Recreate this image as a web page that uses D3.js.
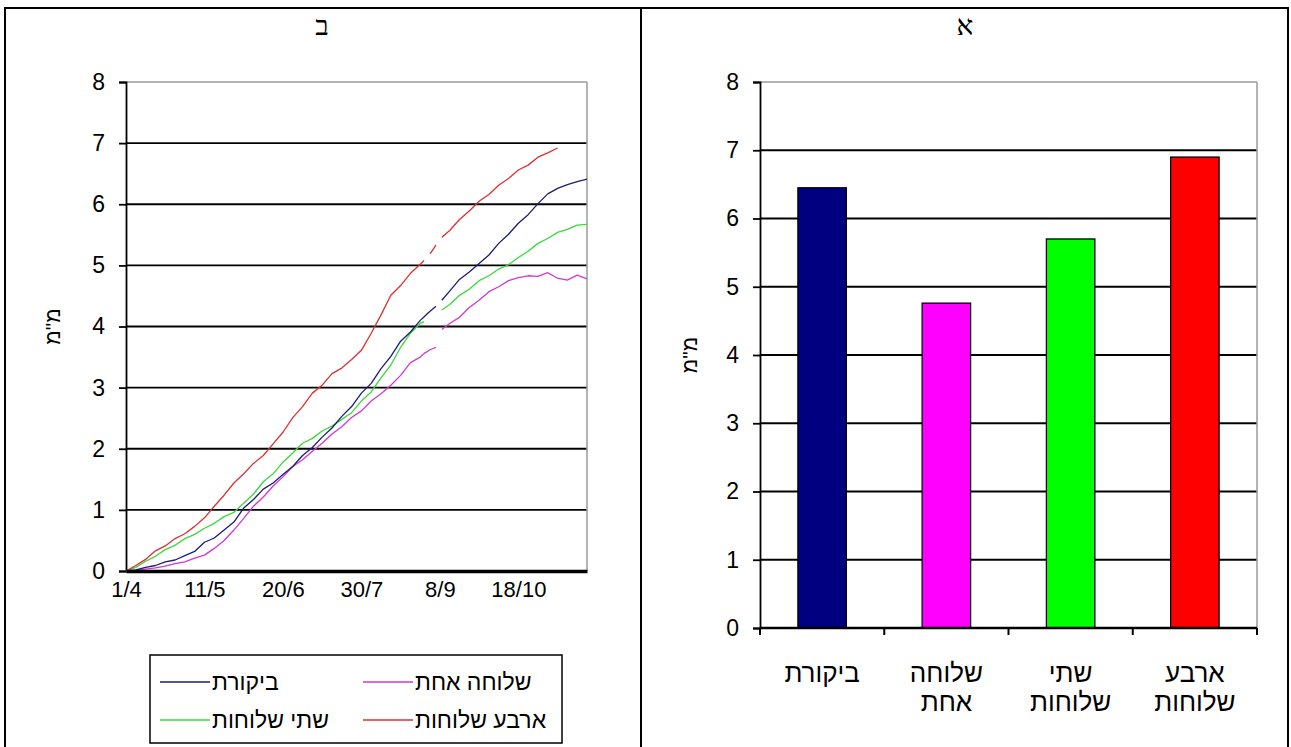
<!DOCTYPE html>
<html>
<head>
<meta charset="utf-8">
<script src="https://cdn.jsdelivr.net/npm/d3@7"></script>
<style>
  html, body { margin: 0; padding: 0; background: #fff; }
  svg { display: block; }
  text { font-family: "Liberation Sans", Arial, "DejaVu Sans", sans-serif; fill: #000; }
</style>
</head>
<body>
<svg id="chart" width="1291" height="747"></svg>
<script>
// ---------------- DATA ----------------
const panelTitles = ["ב", "א"];
const yTitle = "מ\"מ";
const yTicks = [0, 1, 2, 3, 4, 5, 6, 7, 8];

// Line chart (panel ב): day offsets from 1/4
const startDate = "2000-04-01";
const dayOffsets = [0, 5, 10, 15, 20, 25, 30, 35, 40, 45, 50, 55, 60, 65, 70, 75, 80, 85, 90, 95,
  100, 105, 110, 115, 120, 125, 130, 135, 140, 145, 150, 152, 154, 155, 158, 160, 161, 165, 170, 175,
  180, 185, 190, 195, 200, 205, 210, 215, 220, 225, 230, 235];
const xTickDates = ["2000-04-01", "2000-05-11", "2000-06-20", "2000-07-30", "2000-09-08", "2000-10-18"];
const xTickLabels = ["1/4", "11/5", "20/6", "30/7", "8/9", "18/10"];

const seriesNames = ["ביקורת", "שלוחה אחת", "שתי שלוחות", "ארבע שלוחות"];
const lineColors = ["#1c1c78", "#d238d2", "#3ad83a", "#dc3030"];
const barColors = ["#000080", "#ff00ff", "#00ff00", "#ff0000"];

const controlSeries = [0, 0.02, 0.06, 0.09, 0.15, 0.18, 0.25, 0.32, 0.47, 0.54, 0.67, 0.8, 1.03, 1.17, 1.34, 1.44, 1.58, 1.71, 1.89, 2.02,
  2.19, 2.34, 2.53, 2.69, 2.91, 3.07, 3.31, 3.51, 3.76, 3.91, 4.1, 4.16, 4.22, 4.25, 4.33, null, 4.43, 4.58, 4.77, 4.89,
  5.03, 5.17, 5.36, 5.51, 5.69, 5.83, 6.01, 6.17, 6.26, 6.32, 6.37, 6.41];
const oneBranchSeries = [0, 0.01, 0.03, 0.05, 0.08, 0.12, 0.15, 0.21, 0.26, 0.37, 0.5, 0.67, 0.86, 1.06, 1.21, 1.39, 1.54, 1.71, 1.82, 1.96,
  2.09, 2.24, 2.36, 2.51, 2.62, 2.78, 2.9, 3.04, 3.2, 3.41, 3.5, 3.56, 3.6, 3.62, 3.66, null, 3.95, 4.05, 4.15, 4.31,
  4.43, 4.57, 4.65, 4.75, 4.8, 4.83, 4.82, 4.88, 4.79, 4.76, 4.84, 4.78];
const twoBranchSeries = [0, 0.06, 0.16, 0.24, 0.35, 0.42, 0.53, 0.6, 0.7, 0.78, 0.89, 0.96, 1.11, 1.26, 1.46, 1.59, 1.78, 1.93, 2.09, 2.17,
  2.29, 2.37, 2.48, 2.59, 2.78, 2.93, 3.16, 3.37, 3.66, 3.89, 4.05, 4.08, null, null, null, null, 4.27, 4.36, 4.51, 4.61,
  4.75, 4.83, 4.94, 5.01, 5.13, 5.23, 5.36, 5.44, 5.54, 5.59, 5.66, 5.67];
const fourBranchSeries = [0, 0.09, 0.19, 0.33, 0.41, 0.53, 0.61, 0.73, 0.87, 1.06, 1.24, 1.44, 1.59, 1.76, 1.89, 2.08, 2.27, 2.51, 2.69, 2.91,
  3.04, 3.23, 3.32, 3.46, 3.61, 3.89, 4.19, 4.51, 4.67, 4.87, 5.02, 5.08, null, 5.19, 5.33, null, 5.46, 5.57, 5.75, 5.89,
  6.05, 6.16, 6.31, 6.42, 6.56, 6.64, 6.77, 6.84, 6.92, null, null, null];

// Bar chart (panel א)
const barCategories = [["ביקורת"], ["שלוחה", "אחת"], ["שתי", "שלוחות"], ["ארבע", "שלוחות"]];
const barValues = [6.45, 4.76, 5.7, 6.9];

// ---------------- DRAW ----------------
const svg = d3.select("#chart");

svg.append("rect").attr("x", 5).attr("y", 8).attr("width", 1283).attr("height", 760)
  .attr("fill", "none").attr("stroke", "#000").attr("stroke-width", 2);
svg.append("line").attr("x1", 641).attr("x2", 641).attr("y1", 8).attr("y2", 747)
  .attr("stroke", "#000").attr("stroke-width", 2);

[[322, panelTitles[0]], [965, panelTitles[1]]].forEach(([x, t]) => {
  svg.append("text").attr("x", x).attr("y", 35).attr("text-anchor", "middle")
    .style("font-family", "'Liberation Serif','DejaVu Serif',serif").style("font-size", "28px")
    .text(t);
});

function yAxisPanel(g, y, x0, x1, pad) {
  g.append("g").selectAll("line").data(yTicks.filter(d => d > 0)).join("line")
    .attr("x1", x0).attr("x2", x1)
    .attr("y1", d => y(d)).attr("y2", d => y(d))
    .attr("stroke", d => d === 8 ? "#9a9a9a" : "#000")
    .attr("stroke-width", d => d === 8 ? 1.5 : 1.8);
  g.append("line").attr("x1", x1).attr("x2", x1).attr("y1", y(8)).attr("y2", y(0))
    .attr("stroke", "#9a9a9a").attr("stroke-width", 1.5);
  const ax = g.append("g").attr("transform", `translate(${x0},0)`)
    .call(d3.axisLeft(y).tickValues(yTicks).tickSize(7).tickPadding(pad).tickFormat(d3.format("d")));
  ax.select(".domain").attr("stroke", "#000").attr("stroke-width", 1.8);
  ax.selectAll(".tick line").attr("stroke", "#000").attr("stroke-width", 1.8);
  ax.selectAll(".tick text").style("font-size", "23px").style("font-family", "'Liberation Sans',Arial,sans-serif")
    .attr("fill", "#222");
}

// ---- Left: line chart ----
const parseDate = d3.utcParse("%Y-%m-%d");
const t0 = parseDate(startDate);
const dates = dayOffsets.map(d => d3.utcDay.offset(t0, d));
const xL = d3.scaleUtc().domain([t0, d3.utcDay.offset(t0, dayOffsets[dayOffsets.length - 1])]).range([126, 587]);
const yL = d3.scaleLinear().domain([0, 8]).range([571, 82]);
const gL = svg.append("g");
yAxisPanel(gL, yL, 126, 587, 14);

const allSeries = [controlSeries, oneBranchSeries, twoBranchSeries, fourBranchSeries];
const line = d3.line().defined(d => d[1] !== null).x(d => xL(d[0])).y(d => yL(d[1]));
[1, 2, 0, 3].forEach(i => {
  gL.append("path").datum(dates.map((dt, j) => [dt, allSeries[i][j]]))
    .attr("fill", "none").attr("stroke", lineColors[i]).attr("stroke-width", 1.3)
    .attr("stroke-linejoin", "round").attr("d", line);
});
const axB = gL.append("g").attr("transform", `translate(0,${yL(0)})`)
  .call(d3.axisBottom(xL).tickValues(xTickDates.map(parseDate)).tickSize(0).tickPadding(10)
    .tickFormat((d, i) => xTickLabels[i]));
axB.select(".domain").attr("stroke", "#000").attr("stroke-width", 3.5);
axB.selectAll(".tick text").style("font-size", "22px").attr("fill", "#222")
  .style("font-family", "'Liberation Sans',Arial,sans-serif");

gL.append("text").attr("transform", `translate(60,${yL(4)}) rotate(-90)`).attr("text-anchor", "middle")
  .style("font-size", "21px").text(yTitle);

// legend
const legend = gL.append("g");
legend.append("rect").attr("x", 150).attr("y", 655).attr("width", 412).attr("height", 88)
  .attr("fill", "none").attr("stroke", "#000").attr("stroke-width", 1.5);
const legendPos = [[160, 682], [363, 682], [160, 720], [363, 720]];
seriesNames.forEach((name, i) => {
  const [lx, ly] = legendPos[i];
  legend.append("line").attr("x1", lx).attr("x2", lx + 50).attr("y1", ly).attr("y2", ly)
    .attr("stroke", lineColors[i]).attr("stroke-width", 1.5);
  legend.append("text").attr("x", lx + 52).attr("y", ly + 8).attr("text-anchor", "start")
    .style("font-size", "23px").text(name);
});

// ---- Right: bar chart ----
const xR = d3.scaleBand().domain(d3.range(barValues.length)).range([760, 1257]).paddingInner(0.61).paddingOuter(0.305);
const yR = d3.scaleLinear().domain([0, 8]).range([628, 82]);
const gR = svg.append("g");
yAxisPanel(gR, yR, 760, 1257, 14);

gR.append("g").selectAll("rect").data(barValues).join("rect")
  .attr("x", (d, i) => xR(i)).attr("width", xR.bandwidth())
  .attr("y", d => yR(d)).attr("height", d => yR(0) - yR(d))
  .attr("fill", (d, i) => barColors[i]).attr("stroke", "#000").attr("stroke-width", 1.3);

gR.append("line").attr("x1", 760).attr("x2", 1257).attr("y1", yR(0)).attr("y2", yR(0))
  .attr("stroke", "#000").attr("stroke-width", 2.5);
const step = xR.step();
gR.append("g").selectAll("line").data(d3.range(barValues.length + 1)).join("line")
  .attr("x1", i => xR(0) - xR.paddingOuter() * step + i * step)
  .attr("x2", i => xR(0) - xR.paddingOuter() * step + i * step)
  .attr("y1", yR(0)).attr("y2", yR(0) + 7).attr("stroke", "#000").attr("stroke-width", 2);

barCategories.forEach((lines, i) => {
  const cx = xR(i) + xR.bandwidth() / 2;
  lines.forEach((ln, k) => {
    gR.append("text").attr("x", cx).attr("y", 682 + k * 29).attr("text-anchor", "middle")
      .style("font-size", "26px").attr("fill", "#222").text(ln);
  });
});

gR.append("text").attr("transform", `translate(697,${yR(4)}) rotate(-90)`).attr("text-anchor", "middle")
  .style("font-size", "21px").text(yTitle);
</script>
</body>
</html>
